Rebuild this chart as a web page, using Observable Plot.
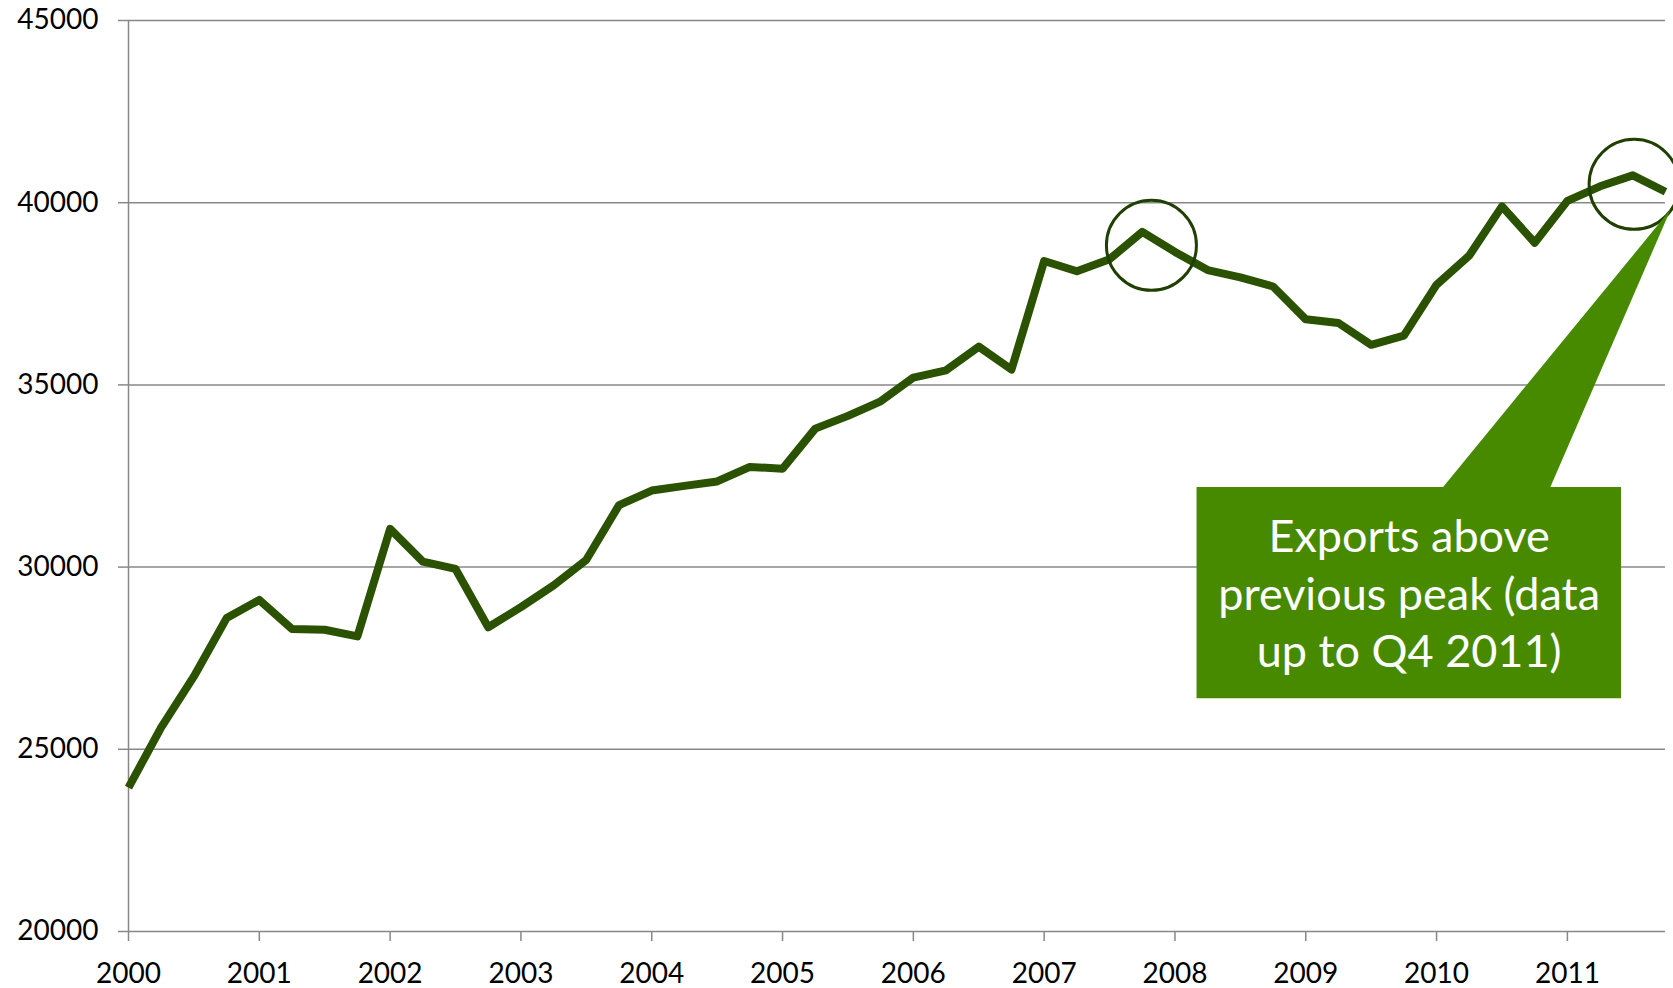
<!DOCTYPE html>
<html><head><meta charset="utf-8">
<script src="https://cdn.jsdelivr.net/npm/d3@7"></script>
<script src="https://cdn.jsdelivr.net/npm/@observablehq/plot@0.6"></script>
<style>body{margin:0;background:#fff}</style>
</head><body><div id="chart"></div>
<script>
// Quarterly exports, 2000 Q1 – 2011 Q4
const startYear = 2000;
const exportsValues = [
  23950, 25600, 27000, 28600, // 2000
  29100, 28300, 28280, 28100, // 2001
  31050, 30150, 29950, 28350, // 2002
  28900, 29500, 30200, 31700, // 2003
  32100, 32230, 32350, 32750, // 2004
  32700, 33800, 34150, 34550, // 2005
  35200, 35400, 36050, 35420, // 2006
  38400, 38120, 38450, 39200, // 2007
  38650, 38150, 37950, 37700, // 2008
  36800, 36700, 36100, 36350, // 2009
  37750, 38550, 39900, 38900, // 2010
  40050, 40450, 40750, 40300  // 2011
];
const yTicks = [20000, 25000, 30000, 35000, 40000, 45000];
const xTicks = [2000, 2001, 2002, 2003, 2004, 2005, 2006, 2007, 2008, 2009, 2010, 2011];

// Highlight circles (time, value)
const circleX = [2007.82, 2011.51];
const circleY = [38830, 40505];

// Callout box + pointer (time, value)
const calloutX = [2008.165, 2010.05, 2011.79, 2010.87, 2011.41, 2011.41, 2008.165];
const calloutY = [32200, 32200, 39819, 32200, 32200, 26400, 26400];
const calloutText = "Exports above\nprevious peak (data\nup to Q4 2011)";
const calloutPos = {x: 2009.79, y: 29340};

const data = exportsValues.map((v, i) => ({t: startYear + i / 4, v}));
const circles = circleX.map((x, i) => ({x, y: circleY[i]}));
const callout = calloutX.map((x, i) => ({x, y: calloutY[i]}));

const font = "Lato, 'Open Sans', sans-serif";
const chart = Plot.plot({
  width: 1673, height: 988,
  marginLeft: 128, marginRight: 8, marginTop: 20, marginBottom: 57,
  style: {fontFamily: font, fontSize: "28px", color: "#000", background: "#fff"},
  x: {domain: [2000, 2011.75]},
  y: {domain: [20000, 45000]},
  marks: [
    Plot.gridY(yTicks, {stroke: "#888", strokeOpacity: 1, strokeWidth: 1.5}),
    Plot.ruleX([2000], {stroke: "#888", strokeWidth: 1.5}),
    Plot.axisY({ticks: yTicks, tickFormat: d3.format("d"), tickSize: 10, tickPadding: 20, stroke: "#888", strokeWidth: 1.5, fill: "#000", label: null}),
    Plot.axisX({ticks: xTicks, tickFormat: d3.format("d"), tickSize: 10, tickPadding: 22, stroke: "#888", strokeWidth: 1.5, fill: "#000", label: null}),
    Plot.line(data, {x: "t", y: "v", stroke: "#2a5200", strokeWidth: 8, strokeLinejoin: "round", strokeLinecap: "butt"}),
    Plot.dot(circles, {x: "x", y: "y", r: 45, stroke: "#1f4000", strokeWidth: 3, fill: "none"}),
    Plot.line(callout, {x: "x", y: "y", curve: "linear-closed", fill: "#478a00", stroke: "none"}),
    Plot.text([calloutText], {x: () => calloutPos.x, y: () => calloutPos.y, text: d => d, fill: "#fff", fontSize: 45, lineHeight: 1.28, textAnchor: "middle", fontFamily: font})
  ]
});
document.getElementById("chart").append(chart);
</script>
</body></html>
